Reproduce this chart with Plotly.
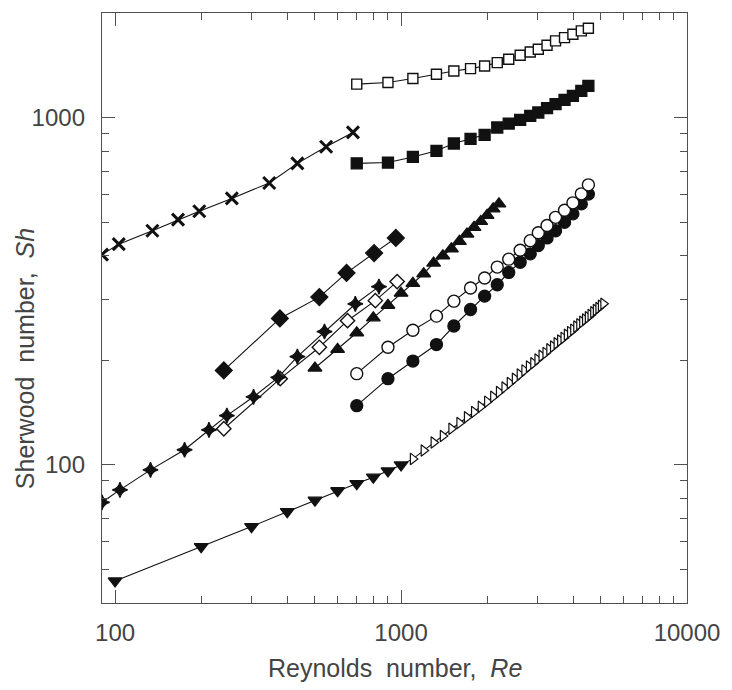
import numpy as np
import plotly.graph_objects as go

# ---- data: Reynolds number (Re) and Sherwood number (Sh) per series ----
re_hi = [700, 900, 1100, 1330, 1530, 1750, 1960, 2170, 2380, 2610,
         2830, 3020, 3240, 3470, 3730, 3990, 4270, 4520]
sh_sq_open = [1248, 1261, 1295, 1333, 1362, 1383, 1408, 1439, 1472, 1512,
              1545, 1573, 1615, 1662, 1699, 1738, 1776, 1808]
sh_sq_fill = [738, 742, 770, 802, 842, 868, 892, 936, 961, 985,
              1011, 1034, 1064, 1093, 1124, 1154, 1193, 1234]
sh_circ_open = [183, 218, 244, 268, 296, 323, 345, 371, 391, 415,
                442, 466, 489, 516, 541, 568, 603, 640]
sh_circ_fill = [148, 177, 199, 222, 251, 280, 306, 330, 358, 383,
                405, 428, 450, 472, 499, 528, 564, 602]

re_cross = [90, 103, 135, 166, 197, 256, 346, 434, 547, 679]
sh_cross = [403, 432, 472, 508, 537, 585, 648, 738, 824, 906]

re_dia_fill = [240, 377, 518, 645, 805, 959]
sh_dia_fill = [187, 264, 304, 357, 407, 450]

re_dia_open = [240, 378, 518, 650, 813, 969]
sh_dia_open = [127, 177, 218, 260, 297, 337]

re_star = [90, 104, 133, 175, 213, 246, 305, 372, 434, 540, 692, 837]
sh_star = [78, 84.7, 96.7, 110.5, 126, 138.6, 157, 178.6, 205, 242, 290.5, 326]

re_tri_up = [500, 600, 700, 800, 900, 1000, 1100, 1200, 1300, 1400,
             1500, 1600, 1700, 1800, 1900, 2000, 2100, 2200]
sh_tri_up = [190, 215, 240, 265, 288, 312, 333, 355, 381, 400,
             419, 440, 462, 483, 502, 523, 546, 564]

re_tri_down = [100, 200, 300, 400, 500, 600, 700, 800, 900, 1000]
sh_tri_down = [46.3, 58.1, 66.4, 73.3, 79.1, 84.2, 88.3, 92.1, 96.0, 99.9]

re_tri_right = [1100, 1200, 1300, 1400, 1500, 1600, 1700, 1800, 1900, 2000,
                2100, 2200, 2300, 2400, 2500, 2600, 2700, 2800, 2900, 3000,
                3100, 3200, 3300, 3400, 3500, 3600, 3700, 3800, 3900, 4000,
                4100, 4200, 4300, 4400, 4500, 4600, 4700, 4800, 4900, 5000,
                5100]
sh_tri_right = [104, 110, 116, 121, 127, 132, 137, 142, 147, 152,
                157, 162, 167, 172, 177, 182, 187, 192, 196, 201,
                206, 210, 215, 219, 224, 228, 232, 237, 241, 245,
                250, 254, 258, 262, 266, 270, 275, 279, 283, 287,
                291]

x_major = [100, 1000, 10000]
x_minor = [200, 300, 400, 500, 600, 700, 800, 900,
           2000, 3000, 4000, 5000, 6000, 7000, 8000, 9000]
y_major = [100, 1000]
y_minor = [50, 60, 70, 80, 90, 200, 300, 400, 500, 600, 700, 800, 900, 2000]

x_title = "Reynolds&nbsp;&nbsp;number,&nbsp;&nbsp;<i>Re</i>"
y_title = "Sherwood&nbsp;&nbsp;number,&nbsp;&nbsp;<i>Sh</i>"

INK = "#111111"
AXIS = "#505050"
TEXT = "#444444"
FONT = "Liberation Sans, Arial, sans-serif"

fig = go.Figure()


def line(x, y):
    fig.add_trace(go.Scatter(x=x, y=y, mode="lines",
                             line=dict(color=INK, width=1.1),
                             hoverinfo="skip", showlegend=False))


def marks(x, y, symbol, size, filled=True, lw=1.3):
    fig.add_trace(go.Scatter(
        x=x, y=y, mode="markers", showlegend=False,
        marker=dict(symbol=symbol, size=size,
                    color=INK if filled else "white",
                    line=dict(color=INK, width=lw))))


# connecting lines first, markers on top
line(re_hi, sh_sq_open)
line(re_hi, sh_sq_fill)
line(re_hi, sh_circ_open)
line(re_hi, sh_circ_fill)
line(re_cross, sh_cross)
line(re_dia_fill, sh_dia_fill)
line(re_dia_open, sh_dia_open)
line(re_star, sh_star)
line(re_tri_up, sh_tri_up)
line(re_tri_down + re_tri_right, sh_tri_down + sh_tri_right)

marks(re_tri_right, sh_tri_right, "triangle-right", 10, filled=False, lw=1.2)
marks(re_tri_down, sh_tri_down, "triangle-down", 12)
marks(re_hi, sh_sq_open, "square", 10, filled=False, lw=1.4)
marks(re_hi, sh_sq_fill, "square", 11)
marks(re_hi, sh_circ_fill, "circle", 12)
marks(re_hi, sh_circ_open, "circle", 12, filled=False, lw=1.4)
marks(re_tri_up, sh_tri_up, "triangle-up", 12)
marks(re_dia_open, sh_dia_open, "diamond", 11, filled=False, lw=1.4)
marks(re_star, sh_star, "star-diamond", 11)
marks(re_dia_fill, sh_dia_fill, "diamond", 13)
marks(re_cross, sh_cross, "x-thin", 12, lw=3)

axis_common = dict(
    type="log", showgrid=False, zeroline=False,
    showline=True, linecolor=AXIS, linewidth=1.4, mirror="ticks",
    ticks="inside", ticklen=13, tickwidth=1.2, tickcolor=AXIS,
    tickfont=dict(family=FONT, size=24, color=TEXT),
)

fig.update_xaxes(
    range=[np.log10(90), 4],
    tickvals=x_major, ticktext=[str(v) for v in x_major],
    minor=dict(tickvals=x_minor, ticks="inside", ticklen=7,
               tickwidth=1, tickcolor=AXIS, showgrid=False),
    ticklabelstandoff=8,
    **axis_common,
)
fig.update_yaxes(
    range=[np.log10(40), np.log10(2000)],
    tickvals=y_major, ticktext=[str(v) for v in y_major],
    minor=dict(tickvals=y_minor, ticks="inside", ticklen=7,
               tickwidth=1, tickcolor=AXIS, showgrid=False),
    ticklabelstandoff=11,
    **axis_common,
)

# axis titles placed as annotations in pixel-based paper coordinates
W, H = 732, 690
ML, MR, MT, MB = 102, 39, 12, 87
pw, ph = W - ML - MR, H - MT - MB

fig.add_annotation(text=x_title, xref="paper", yref="paper",
                   x=(398 - ML) / pw, y=(H - MB - 668) / ph,
                   xanchor="center", yanchor="middle", showarrow=False,
                   font=dict(family=FONT, size=25, color=TEXT))
fig.add_annotation(text=y_title, xref="paper", yref="paper",
                   x=(25 - ML) / pw, y=(H - MB - 358) / ph,
                   xanchor="center", yanchor="middle", showarrow=False,
                   textangle=-90,
                   font=dict(family=FONT, size=25, color=TEXT))

fig.update_layout(
    width=W, height=H,
    margin=dict(l=ML, r=MR, t=MT, b=MB),
    paper_bgcolor="white", plot_bgcolor="white",
    font=dict(family=FONT),
)

fig.write_html("out.html")
